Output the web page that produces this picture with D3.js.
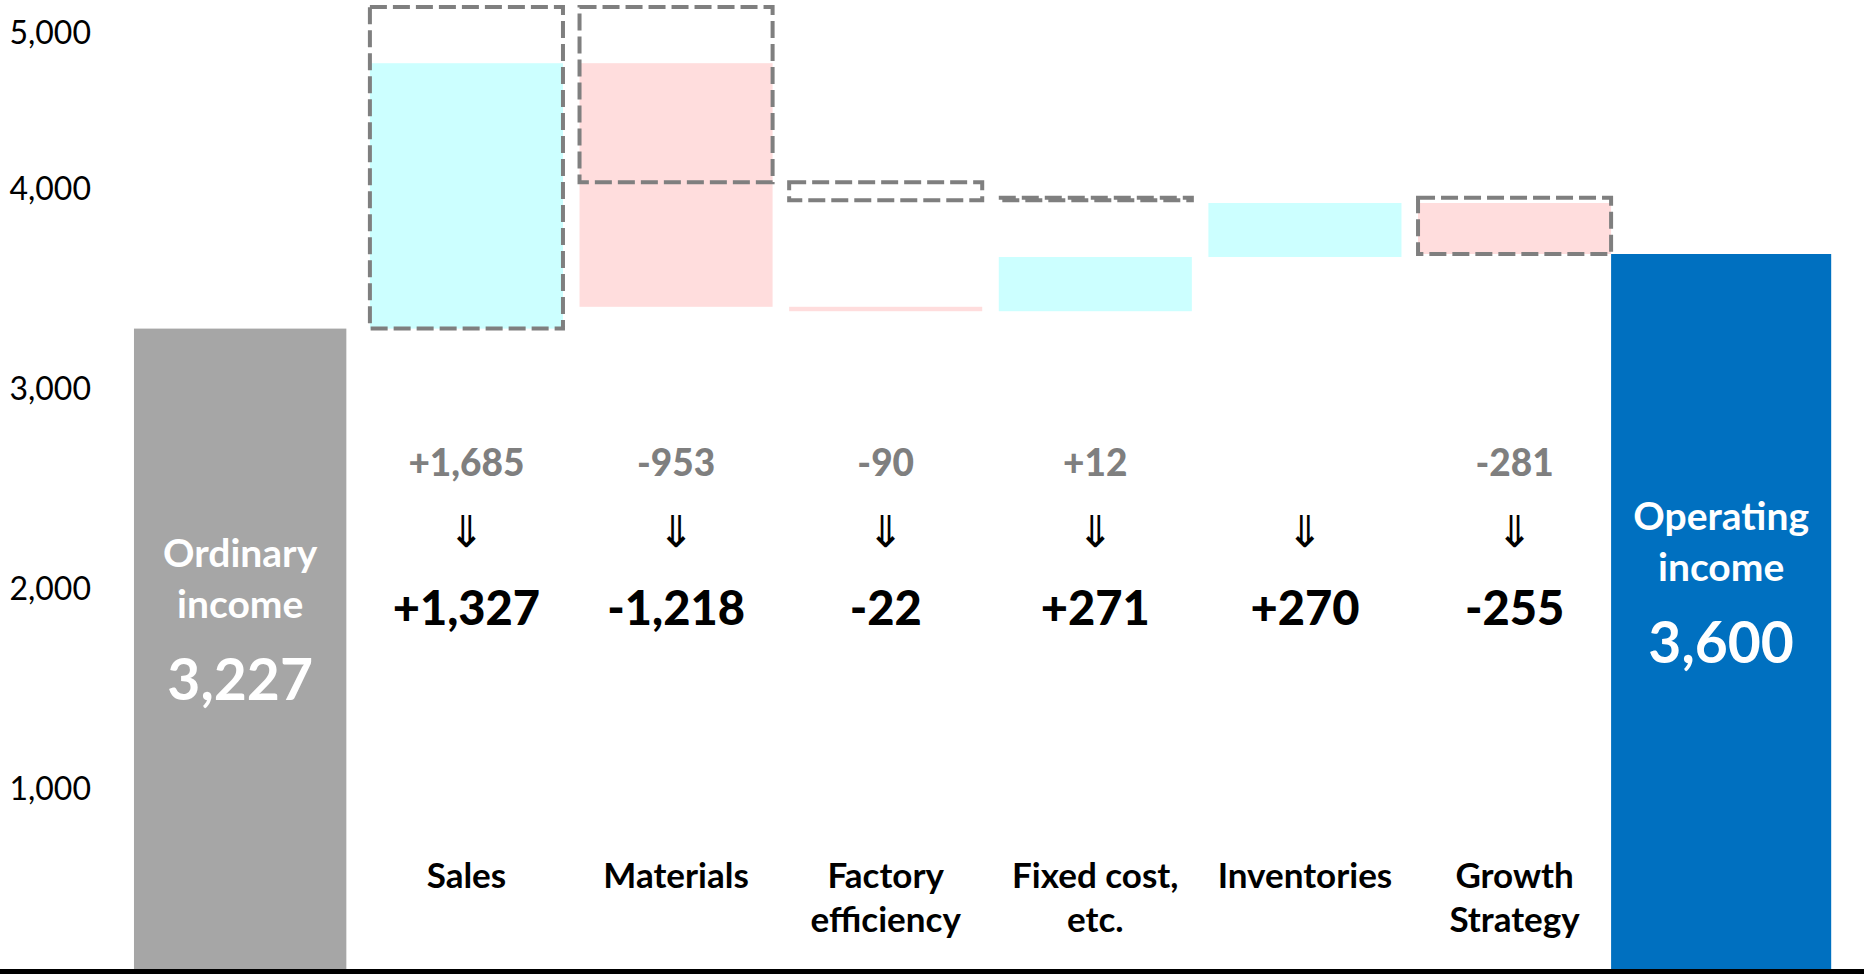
<!DOCTYPE html>
<html>
<head>
<meta charset="utf-8">
<script src="https://cdn.jsdelivr.net/npm/d3@7"></script>
<style>
  html, body { margin: 0; padding: 0; background: #fff; }
  svg { display: block; }
</style>
</head>
<body>
<svg id="chart" width="1864" height="974"></svg>
<script>
// ---- data ----
const categories = ["Ordinary income", "Sales", "Materials", "Factory efficiency",
                    "Fixed cost, etc.", "Inventories", "Growth Strategy", "Operating income"];
const categoryLines = [["Sales"], ["Materials"], ["Factory", "efficiency"],
                       ["Fixed cost,", "etc."], ["Inventories"], ["Growth", "Strategy"]];
const startTotal = 3227;
const endTotal = 3600;
const startLabel = ["Ordinary", "income"];
const endLabel = ["Operating", "income"];
const actualDeltas = [1327, -1218, -22, 271, 270, -255];
const planDeltas = [1685, -953, -90, 12, null, -281];
const yTicks = [1000, 2000, 3000, 4000, 5000];

// ---- layout ----
const W = 1864, H = 974;
const svg = d3.select("#chart");

const x = d3.scaleBand()
  .domain(categories)
  .range([152, 1829])
  .paddingInner(0.079)
  .paddingOuter(0.0395);
const bw = x.bandwidth();

const y = d3.scaleLinear()
  .domain([0, 4835])
  .range([974, 7])
  .clamp(true);

const fmtLocale = d3.formatLocale({ decimal: ".", thousands: ",", grouping: [3], currency: ["", ""], minus: "-" });
const fmtDelta = fmtLocale.format("+,");
const fmtTotal = fmtLocale.format(",");

const FONT = "Lato, 'Open Sans', sans-serif";
const colors = { total: "#A6A6A6", end: "#0070C0", up: "#CCFFFF", down: "#FFDDDD", plan: "#7F7F7F" };

// running sums for the actual and planned steps
function steps(deltas) {
  let level = startTotal;
  return deltas.map((d, i) => {
    const v = d == null ? 0 : d;
    const s = { cat: categories[i + 1], from: level, to: level + v, delta: d };
    level += v;
    return s;
  });
}
const actualSteps = steps(actualDeltas);
const planSteps = steps(planDeltas);

const cx = c => x(c) + bw / 2;

// ---- total bars: the opening bar sits a little left of its band,
// the closing bar butts against the last step ----
const totals = [
  { cat: categories[0], value: startTotal, color: colors.total, lines: startLabel,
    x0: x(categories[0]) + bw - 7 - bw * 1.1, w: bw * 1.1 },
  { cat: categories[categories.length - 1], value: endTotal, color: colors.end, lines: endLabel,
    x0: x(categories[categories.length - 2]) + bw, w: bw * 1.14 }
];
svg.append("g").selectAll("rect").data(totals).join("rect")
  .attr("x", d => d.x0)
  .attr("width", d => d.w)
  .attr("y", d => y(d.value))
  .attr("height", d => y(0) - y(d.value))
  .attr("fill", d => d.color);

// ---- actual step bars ----
svg.append("g").selectAll("rect").data(actualSteps).join("rect")
  .attr("x", d => x(d.cat))
  .attr("width", bw)
  .attr("y", d => y(Math.max(d.from, d.to)))
  .attr("height", d => Math.abs(y(d.from) - y(d.to)))
  .attr("fill", d => d.to >= d.from ? colors.up : colors.down);

// ---- planned step boxes (dashed) ----
svg.append("g").selectAll("rect").data(planSteps.filter(d => d.delta != null)).join("rect")
  .attr("x", d => x(d.cat))
  .attr("width", bw)
  .attr("y", d => y(Math.max(d.from, d.to)))
  .attr("height", d => Math.abs(y(d.from) - y(d.to)))
  .attr("fill", "none")
  .attr("stroke", colors.plan)
  .attr("stroke-width", 4)
  .attr("stroke-dasharray", "17 6");

// ---- y axis labels ----
const yAxis = svg.append("g")
  .attr("transform", "translate(91,0)")
  .call(d3.axisLeft(y).tickValues(yTicks).tickSize(0).tickPadding(0).tickFormat(fmtTotal));
yAxis.select(".domain").remove();
yAxis.selectAll(".tick text")
  .attr("font-family", FONT)
  .attr("font-size", 32)
  .attr("fill", "#000")
  .attr("dy", "0.35em")
  .attr("y", d => Math.max(y(d) + 14, 32) - y(d));

// ---- bottom baseline ----
svg.append("line")
  .attr("x1", 0).attr("x2", W)
  .attr("y1", y(0) - 2.5).attr("y2", y(0) - 2.5)
  .attr("stroke", "#000").attr("stroke-width", 5);

// ---- planned value labels ----
svg.append("g").selectAll("text").data(planSteps.filter(d => d.delta != null)).join("text")
  .attr("x", d => cx(d.cat))
  .attr("y", 461)
  .attr("text-anchor", "middle")
  .attr("dominant-baseline", "central")
  .attr("font-family", FONT)
  .attr("font-weight", 900)
  .attr("font-size", 37)
  .attr("fill", colors.plan)
  .text(d => fmtDelta(d.delta));

// ---- arrows ----
svg.append("g").selectAll("text").data(actualSteps).join("text")
  .attr("x", d => cx(d.cat))
  .attr("y", 531)
  .attr("text-anchor", "middle")
  .attr("dominant-baseline", "central")
  .attr("font-family", "'DejaVu Sans', sans-serif")
  .attr("font-size", 44)
  .attr("fill", "#000")
  .text("\u21D3");

// ---- actual value labels ----
svg.append("g").selectAll("text").data(actualSteps).join("text")
  .attr("x", d => cx(d.cat))
  .attr("y", 607)
  .attr("text-anchor", "middle")
  .attr("dominant-baseline", "central")
  .attr("font-family", FONT)
  .attr("font-weight", 900)
  .attr("font-size", 47)
  .attr("fill", "#000")
  .text(d => fmtDelta(d.delta));

// ---- category labels ----
const catG = svg.append("g").selectAll("text").data(actualSteps).join("text")
  .attr("x", d => cx(d.cat))
  .attr("text-anchor", "middle")
  .attr("font-family", FONT)
  .attr("font-weight", 700)
  .attr("font-size", 35)
  .attr("fill", "#000");
catG.selectAll("tspan").data((d, i) => categoryLines[i].map(t => ({ t, c: d.cat }))).join("tspan")
  .attr("x", d => cx(d.c))
  .attr("y", (d, j) => 874 + j * 44)
  .attr("dominant-baseline", "central")
  .text(d => d.t);

// ---- total bar labels ----
const totalText = svg.append("g").selectAll("g").data(totals).join("g")
  .attr("transform", d => `translate(${d.x0 + d.w / 2},${(y(d.value) + y(0)) / 2})`);
totalText.selectAll("text.name").data(d => d.lines).join("text")
  .attr("class", "name")
  .attr("y", (d, j) => -99 + j * 51)
  .attr("text-anchor", "middle")
  .attr("dominant-baseline", "central")
  .attr("font-family", FONT)
  .attr("font-weight", 700)
  .attr("font-size", 39)
  .attr("fill", "#fff")
  .text(d => d);
totalText.append("text")
  .attr("y", 27)
  .attr("text-anchor", "middle")
  .attr("dominant-baseline", "central")
  .attr("font-family", FONT)
  .attr("font-weight", 700)
  .attr("font-size", 57)
  .attr("fill", "#fff")
  .text(d => fmtTotal(d.value));
</script>
</body>
</html>
